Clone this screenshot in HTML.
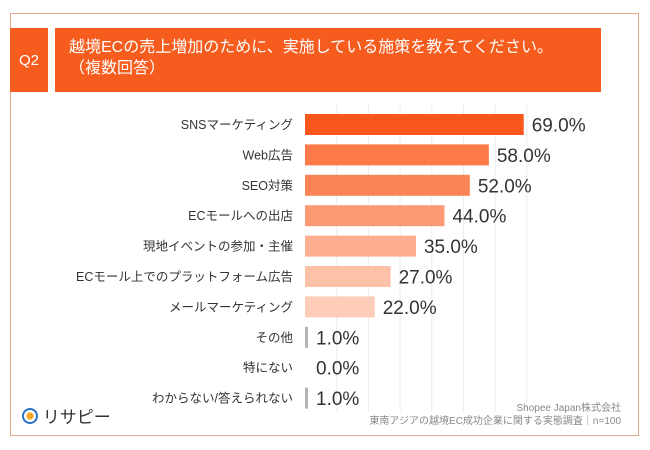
<!DOCTYPE html>
<html><head><meta charset="utf-8">
<style>
body{margin:0;width:650px;height:450px;background:#fff;position:relative;overflow:hidden;font-family:"Liberation Sans","Noto Sans CJK JP",sans-serif;}
.frame{position:absolute;left:10px;top:13px;width:629px;height:423px;border:1px solid #e4a98a;box-sizing:border-box;}
.q{position:absolute;left:10px;top:28px;width:38px;height:64px;background:#f65c1e;color:#fff;font-size:15px;display:flex;align-items:center;justify-content:center;}
.title{position:absolute;left:55px;top:28px;width:546px;height:64px;background:#f65c1e;color:#fff;font-size:16px;line-height:21px;padding:9px 0 0 14px;box-sizing:border-box;}
.src{position:absolute;right:29px;top:402px;text-align:right;color:#888;font-size:10px;line-height:13px;}
.logo{position:absolute;left:22px;top:403px;font-size:17px;color:#333;}
</style></head><body>
<div class="frame"></div>
<div class="q">Q2</div>
<div class="title">越境ECの売上増加のために、実施している施策を教えてください。<br>（複数回答）</div>
<svg id="c" width="650" height="450" style="position:absolute;left:0;top:0"></svg>
<div class="logo"><span style="display:inline-block;width:12px;height:12px;border:2px solid #2a72c4;border-radius:50%;vertical-align:-1px;background:radial-gradient(circle,#f5a623 40%,#fff 45%)"></span> リサピー</div>
<div class="src">Shopee Japan株式会社<br>東南アジアの越境EC成功企業に関する実態調査｜n=100</div>
<script>
const categories=["SNSマーケティング","Web広告","SEO対策","ECモールへの出店","現地イベントの参加・主催","ECモール上でのプラットフォーム広告","メールマーケティング","その他","特にない","わからない/答えられない"];
const values=[69.0,58.0,52.0,44.0,35.0,27.0,22.0,1.0,0.0,1.0];
const colors=["#f9571c","#fb7a48","#fb8457","#fc9a75","#fdae8e","#fdc1a8","#fdcdb9"];
const gridTicks=[10,20,30,40,50,60,70];
const svg=document.getElementById('c');
const NS='http://www.w3.org/2000/svg';
const x0=305, sx=3.17, y0=114, step=30.4, bh=21;
const X=v=>x0+v*sx, Y=i=>y0+i*step;
function mk(t,a){const e=document.createElementNS(NS,t);for(const k in a)e.setAttribute(k,a[k]);svg.appendChild(e);return e;}
gridTicks.forEach(t=>{const l=mk('line',{x1:X(t),x2:X(t),y1:105,y2:412,stroke:'#ececec','stroke-width':1});

});
categories.forEach((c,i)=>{
 const y=Y(i);
 const lab=mk('text',{x:293,y:y+bh/2+4.5,'text-anchor':'end','font-size':12.5,fill:'#333'});
 lab.textContent=c;
 
 
 const v=values[i];
 const small=v<5;
 const w=small?(v>0?3:0):X(v)-x0;
 const r=mk('rect',{x:x0,y:y,width:w,height:bh,fill:small?'#b5b5b5':colors[i%colors.length]});
 
 
 const vt=mk('text',{x:(small?x0+3:X(v))+8,y:y+bh/2+7,'font-size':19,fill:'#333'});
 vt.textContent=v.toFixed(1)+'%';
 
 
});
</script>
</body></html>
